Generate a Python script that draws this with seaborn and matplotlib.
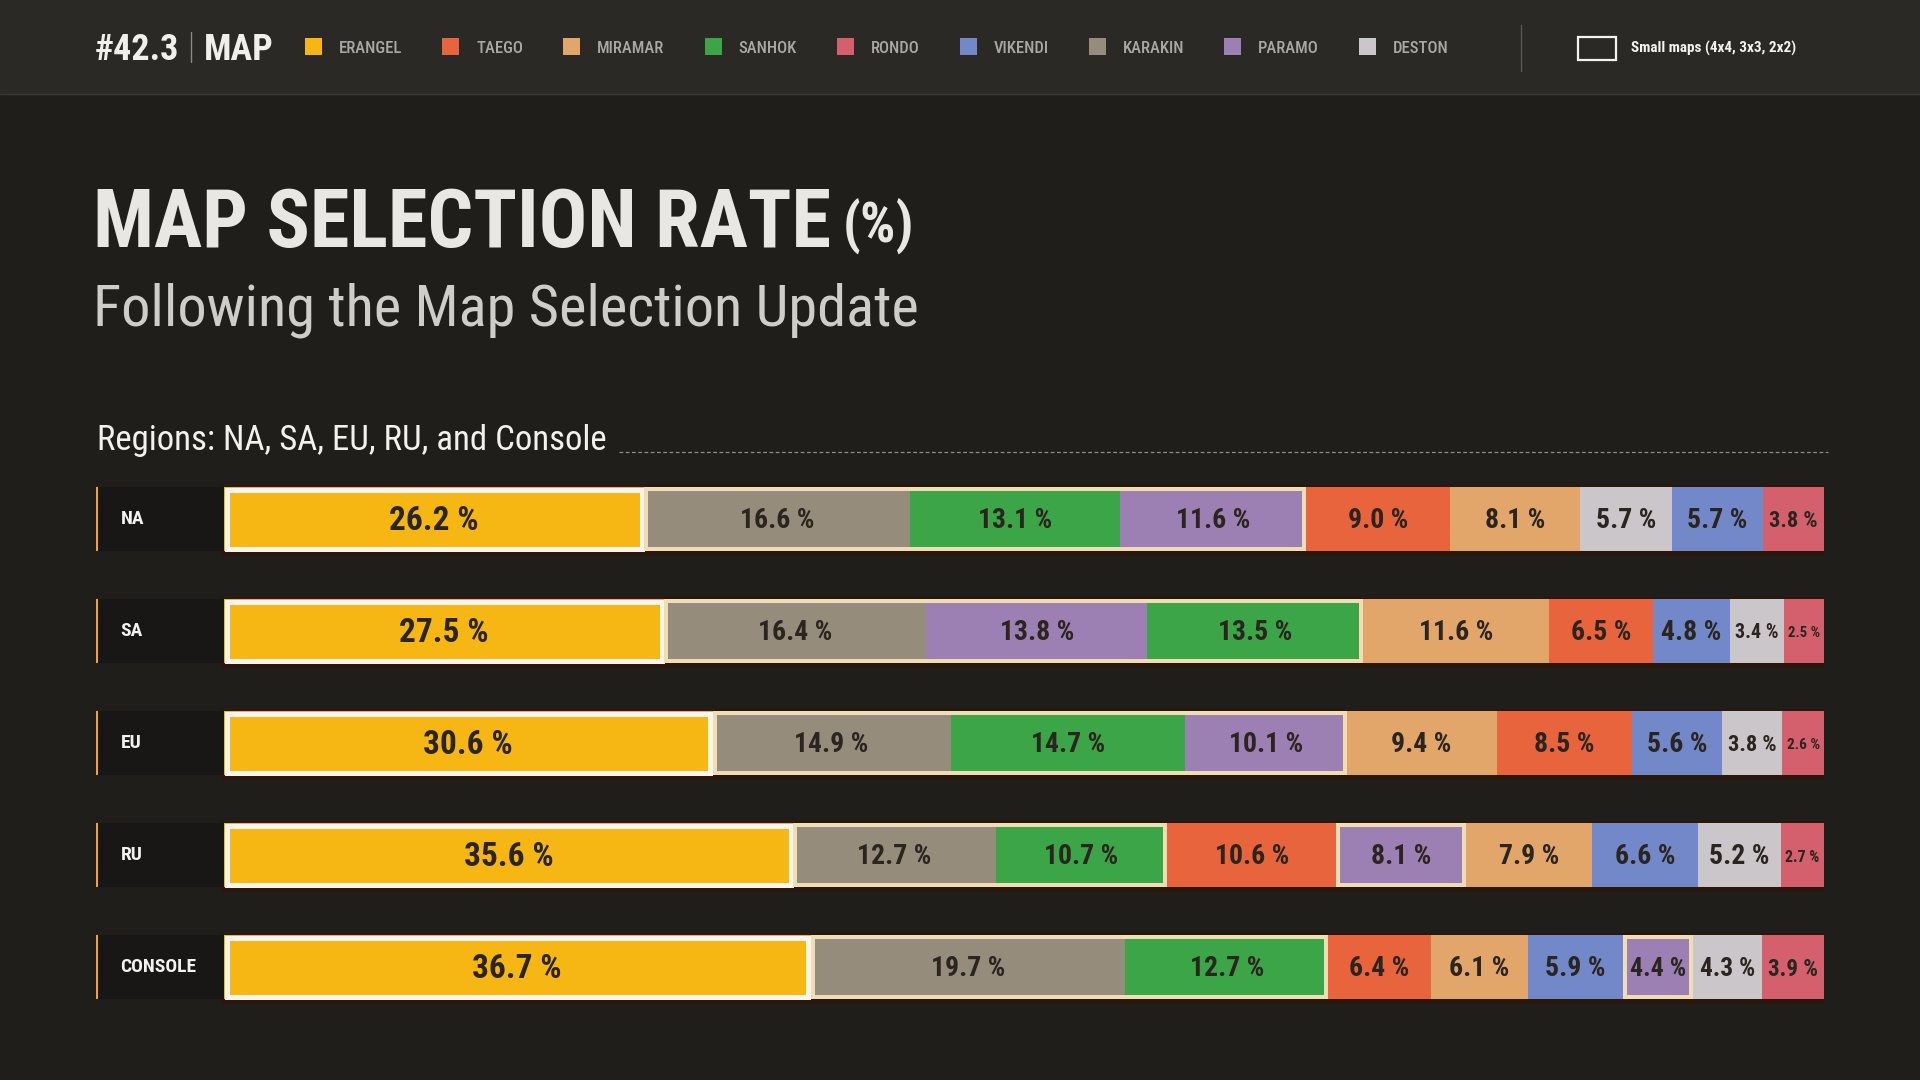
import os

import matplotlib
matplotlib.use('Agg')
import matplotlib.pyplot as plt
import pandas as pd
import seaborn as sns
from matplotlib import font_manager
from matplotlib.font_manager import FontProperties
from matplotlib.lines import Line2D
from matplotlib.patches import Rectangle

W, H = 1920, 1080
BG = '#1f1e1b'
HEADER_BG = '#2a2926'
BAR_TEXT = '#2b2520'

MAPS = ['ERANGEL', 'TAEGO', 'MIRAMAR', 'SANHOK', 'RONDO', 'VIKENDI', 'KARAKIN', 'PARAMO', 'DESTON']
MAP_COLORS = {
    'ERANGEL': '#f6b614',
    'TAEGO': '#e8643c',
    'MIRAMAR': '#e2a66a',
    'SANHOK': '#3ba548',
    'RONDO': '#d4606e',
    'VIKENDI': '#7288c9',
    'KARAKIN': '#968c7c',
    'PARAMO': '#9d80b3',
    'DESTON': '#cbc6ca',
}
SMALL_MAPS = ['SANHOK', 'KARAKIN', 'PARAMO']
REGIONS = ['NA', 'SA', 'EU', 'RU', 'CONSOLE']

na_order = ['ERANGEL', 'KARAKIN', 'SANHOK', 'PARAMO', 'TAEGO', 'MIRAMAR', 'DESTON', 'VIKENDI', 'RONDO']
na_rates = [26.2, 16.6, 13.1, 11.6, 9.0, 8.1, 5.7, 5.7, 3.8]
sa_order = ['ERANGEL', 'KARAKIN', 'PARAMO', 'SANHOK', 'MIRAMAR', 'TAEGO', 'VIKENDI', 'DESTON', 'RONDO']
sa_rates = [27.5, 16.4, 13.8, 13.5, 11.6, 6.5, 4.8, 3.4, 2.5]
eu_order = ['ERANGEL', 'KARAKIN', 'SANHOK', 'PARAMO', 'MIRAMAR', 'TAEGO', 'VIKENDI', 'DESTON', 'RONDO']
eu_rates = [30.6, 14.9, 14.7, 10.1, 9.4, 8.5, 5.6, 3.8, 2.6]
ru_order = ['ERANGEL', 'KARAKIN', 'SANHOK', 'TAEGO', 'PARAMO', 'MIRAMAR', 'VIKENDI', 'DESTON', 'RONDO']
ru_rates = [35.6, 12.7, 10.7, 10.6, 8.1, 7.9, 6.6, 5.2, 2.7]
console_order = ['ERANGEL', 'KARAKIN', 'SANHOK', 'TAEGO', 'MIRAMAR', 'VIKENDI', 'PARAMO', 'DESTON', 'RONDO']
console_rates = [36.7, 19.7, 12.7, 6.4, 6.1, 5.9, 4.4, 4.3, 3.9]

ORDERS = [na_order, sa_order, eu_order, ru_order, console_order]
RATES = [na_rates, sa_rates, eu_rates, ru_rates, console_rates]

# condensed fonts look closest to the original, pick whatever is installed
FONT_FILES = {os.path.splitext(os.path.basename(f.fname))[0].lower(): f.fname
              for f in font_manager.fontManager.ttflist}
FONT_CHOICES = {
    'heavy': ['NotoSans-ExtraCondensedBlack', 'NotoSans-ExtraCondensedExtraBold',
              'NotoSans-ExtraCondensedBold', 'NotoSans-CondensedBlack', 'NotoSans-CondensedBold',
              'RobotoCondensed-Black', 'RobotoCondensed-ExtraBold', 'RobotoCondensed-Bold',
              'LiberationSansNarrow-Bold', 'DejaVuSansCondensed-Bold'],
    'bold': ['NotoSans-ExtraCondensedBold', 'NotoSans-CondensedBold', 'RobotoCondensed-Bold',
             'LiberationSansNarrow-Bold', 'DejaVuSansCondensed-Bold'],
    'medium': ['NotoSans-CondensedMedium', 'NotoSans-CondensedSemiBold', 'RobotoCondensed-Medium',
               'RobotoCondensed-Regular', 'LiberationSansNarrow-Regular', 'DejaVuSansCondensed'],
    'light': ['NotoSans-ExtraCondensed', 'NotoSans-ExtraCondensedMedium', 'NotoSans-Condensed',
              'RobotoCondensed-Regular', 'LiberationSansNarrow-Regular', 'DejaVuSansCondensed'],
}


def font(kind, size):
    for name in FONT_CHOICES[kind]:
        if name.lower() in FONT_FILES:
            return FontProperties(fname=FONT_FILES[name.lower()], size=size)
    weight = 'bold' if kind in ('heavy', 'bold') else 'normal'
    return FontProperties(family='DejaVu Sans', weight=weight, stretch='condensed', size=size)


def fx(px):
    return px / W


def fy(py):
    return 1 - py / H


# long table with the left / right end of every segment (rows scaled to 100 %)
records = []
for region, order, rates in zip(REGIONS, ORDERS, RATES):
    total = sum(rates)
    cum = 0.0
    for rank, (m, r) in enumerate(zip(order, rates)):
        share = r / total * 100
        records.append({'region': region, 'map': m, 'rate': r, 'rank': rank,
                        'start': cum, 'end': cum + share})
        cum += share
df = pd.DataFrame(records)

sns.set_theme(style='dark', rc={'figure.facecolor': BG, 'axes.facecolor': BG})

fig = plt.figure(figsize=(W / 100, H / 100), dpi=100)

# bar area geometry (pixels)
X_LEFT, BAR_X0, BAR_X1 = 95.5, 224, 1824
ROW0, ROW_STEP, BAR_PX = 519, 112, 64
LABEL_W = (BAR_X0 - X_LEFT) / (BAR_X1 - BAR_X0) * 100
BAR_W = BAR_PX / ROW_STEP
PX_X = (BAR_X1 - BAR_X0) / 100
PX_Y = ROW_STEP

ax_top = ROW0 - ROW_STEP / 2
ax_h = ROW_STEP * len(REGIONS)
ax = fig.add_axes([fx(X_LEFT), fy(ax_top + ax_h), (BAR_X1 - X_LEFT) / W, ax_h / H])
ax.set_facecolor('none')

# stacked bars: draw cumulative ends from the longest to the shortest
for k in sorted(df['rank'].unique(), reverse=True):
    sub = df[df['rank'] == k]
    sns.barplot(data=sub, x='end', y='region', hue='map', order=REGIONS, hue_order=MAPS,
                palette=MAP_COLORS, dodge=False, width=BAR_W, saturation=1, linewidth=0,
                errorbar=None, legend=False, ax=ax, zorder=3)

ax.set_xlim(-LABEL_W, 100)
ax.set_ylim(len(REGIONS) - 0.5, -0.5)
ax.axis('off')


def frame(x0, x1, row, color, lw_px):
    dx = lw_px / 2 / PX_X
    dy = lw_px / 2 / PX_Y
    ax.add_patch(Rectangle((x0 + dx, row - BAR_W / 2 + dy), x1 - x0 - 2 * dx, BAR_W - 2 * dy,
                           fill=False, edgecolor=color, linewidth=lw_px * 0.72,
                           joinstyle='miter', zorder=4))


renderer = fig.canvas.get_renderer()

for i, region in enumerate(REGIONS):
    rows = df[df['region'] == region].sort_values('rank')

    # soft brown glow behind the bar
    ax.add_patch(Rectangle((-0.2, i - BAR_W / 2 - 2 / PX_Y), 100.4, BAR_W + 7 / PX_Y,
                           facecolor='#2c1608', alpha=0.8, linewidth=0, zorder=2))

    # region cell
    ax.add_patch(Rectangle((-LABEL_W, i - BAR_W / 2), LABEL_W, BAR_W, facecolor='#181715',
                           linewidth=0, zorder=3))
    ax.add_patch(Rectangle((-LABEL_W, i - BAR_W / 2), 2 / PX_X, BAR_W, facecolor='#e8a91f',
                           linewidth=0, zorder=4))
    ax.text(-LABEL_W + 25 / PX_X, i, region, ha='left', va='center', color='#f4f2ee',
            fontproperties=font('bold', 14), zorder=5)

    # frames: erangel in white, runs of small maps in cream
    run = None
    for _, r in rows.iterrows():
        if r['map'] == 'ERANGEL':
            frame(r['start'], r['end'], i, '#f7f4ee', 5)
        if r['map'] in SMALL_MAPS:
            run = (run[0], r['end']) if run else (r['start'], r['end'])
        elif run:
            frame(run[0], run[1], i, '#f0dcb5', 4)
            run = None
    if run:
        frame(run[0], run[1], i, '#f0dcb5', 4)

    # value labels, shrunk to fit narrow segments
    for _, r in rows.iterrows():
        size = 24 if r['map'] == 'ERANGEL' else 20
        t = ax.text((r['start'] + r['end']) / 2, i + 2 / PX_Y, f"{r['rate']:.1f} %", ha='center',
                    va='center', color=BAR_TEXT, fontproperties=font('heavy', size), zorder=5)
        seg_px = (r['end'] - r['start']) * PX_X
        w = t.get_window_extent(renderer).width
        if w > seg_px * 0.8:
            t.set_fontsize(size * seg_px * 0.8 / w)

# header band
fig.add_artist(Rectangle((0, fy(94)), 1, 94 / H, transform=fig.transFigure,
                         facecolor=HEADER_BG, linewidth=0, zorder=0))
fig.add_artist(Line2D([0, 1], [fy(94), fy(94)], transform=fig.transFigure, color='#3b3a36', lw=1))

t = fig.text(fx(95), fy(60), '#42.3', color='#f1efec', fontproperties=font('heavy', 26),
             va='baseline')
xe = t.get_window_extent(renderer).x1
fig.add_artist(Line2D([fx(xe + 12), fx(xe + 12)], [fy(32), fy(62)], transform=fig.transFigure,
                      color='#8a8884', lw=1))
fig.text(fx(xe + 24), fy(60), 'MAP', color='#f1efec', fontproperties=font('heavy', 26),
         va='baseline')

x = 305
for m in MAPS:
    fig.add_artist(Rectangle((fx(x), fy(55)), 17 / W, 17 / H, transform=fig.transFigure,
                             facecolor=MAP_COLORS[m], linewidth=0))
    t = fig.text(fx(x + 34), fy(53), m, color='#aaa8a3', fontproperties=font('medium', 12),
                 va='baseline')
    x = t.get_window_extent(renderer).x1 + 40

fig.add_artist(Line2D([fx(1521), fx(1521)], [fy(25), fy(71)], transform=fig.transFigure,
                      color='#5a5854', lw=1))
fig.add_artist(Rectangle((fx(1578), fy(60)), 38 / W, 23 / H, transform=fig.transFigure,
                         fill=False, edgecolor='#f4f2ee', linewidth=1.6))
fig.text(fx(1631), fy(53), 'Small maps (4x4, 3x3, 2x2)', color='#f4f2ee',
         fontproperties=font('bold', 11), va='baseline')

# titles
t = fig.text(fx(93), fy(247), 'MAP SELECTION RATE', color='#e8e7e4',
             fontproperties=font('heavy', 58), va='baseline')
fig.text(t.get_window_extent(renderer).x1 / W + fx(12), fy(243), '(%)', color='#e8e7e4',
         fontproperties=font('bold', 40), va='baseline')
fig.text(fx(93), fy(326), 'Following the Map Selection Update', color='#cfcdc9',
         fontproperties=font('light', 42), va='baseline')

t = fig.text(fx(97), fy(450), 'Regions: NA, SA, EU, RU, and Console', color='#f3f1ee',
             fontproperties=font('light', 25), va='baseline')
x0 = t.get_window_extent(renderer).x1 + 12
fig.add_artist(Line2D([x0 / W, fx(1828)], [fy(452), fy(452)], transform=fig.transFigure,
                      color='#8f8d88', lw=0.9, ls=(0, (3, 2))))

fig.savefig('out.png', dpi=100, facecolor=BG)
